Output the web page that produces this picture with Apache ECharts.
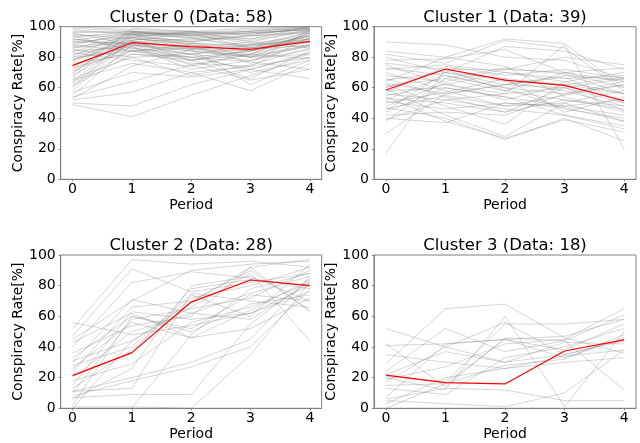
<!DOCTYPE html>
<html>
<head>
<meta charset="utf-8">
<script src="https://cdn.jsdelivr.net/npm/echarts@6/dist/echarts.min.js"></script>
<style>
html,body{margin:0;padding:0;background:#fff;}
#chart{width:640px;height:443px;}
</style>
</head>
<body>
<div id="chart"></div>
<script>
var periods = [0, 1, 2, 3, 4];
var yTicks = [0, 20, 40, 60, 80, 100];
var clusterTitles = ["Cluster 0 (Data: 58)", "Cluster 1 (Data: 39)", "Cluster 2 (Data: 28)", "Cluster 3 (Data: 18)"];
var xAxisName = "Period";
var yAxisName = "Conspiracy Rate[%]";

var cluster0Lines = [
  [49, 41, 55, 68, 80], [50, 48, 62, 72, 82], [52, 57, 70, 58, 76], [54, 64, 75, 65, 72],
  [55, 88, 85, 62, 78], [58, 92, 90, 80, 88], [60, 95, 88, 84, 92], [62, 85, 78, 66, 84],
  [63, 90, 92, 88, 96], [64, 93, 86, 90, 98], [66, 80, 68, 75, 86], [67, 96, 94, 92, 100],
  [68, 89, 82, 78, 88], [70, 94, 90, 95, 99], [71, 87, 75, 82, 90], [72, 91, 96, 86, 94],
  [73, 84, 80, 72, 66], [74, 97, 92, 96, 98], [75, 88, 84, 80, 82], [76, 82, 78, 84, 95],
  [77, 93, 97, 90, 86], [78, 90, 86, 84, 92], [78, 95, 90, 94, 100], [79, 86, 82, 88, 90],
  [80, 84, 88, 76, 98], [80, 91, 78, 85, 88], [81, 96, 95, 89, 94], [82, 89, 86, 82, 79],
  [83, 78, 74, 82, 96], [84, 93, 88, 86, 90], [84, 87, 72, 78, 85], [85, 80, 82, 86, 97],
  [86, 90, 89, 87, 92], [86, 94, 96, 92, 98], [87, 91, 85, 81, 88], [88, 96, 94, 97, 99],
  [88, 84, 76, 74, 93], [89, 95, 93, 86, 91], [90, 93, 91, 94, 97], [90, 89, 84, 80, 87],
  [91, 96, 97, 95, 99], [92, 86, 80, 84, 94], [92, 88, 82, 70, 78], [93, 97, 95, 96, 98],
  [94, 84, 86, 80, 95], [94, 95, 96, 97, 100], [95, 92, 89, 88, 92], [96, 97, 94, 96, 98],
  [96, 88, 78, 82, 96], [97, 96, 95, 97, 99], [98, 95, 93, 91, 97], [99, 97, 96, 98, 100],
  [100, 98, 97, 99, 100], [65, 76, 70, 74, 80], [57, 70, 67, 72, 83], [61, 82, 80, 77, 72],
  [69, 99, 97, 94, 96], [53, 74, 85, 88, 93]
];
var cluster0Mean = [74.5, 89.5, 86.9, 85.2, 90.4];

var cluster1Lines = [
  [90, 88, 80, 78, 66], [84, 80, 92, 89, 60], [82, 76, 91, 86, 58], [80, 70, 87, 84, 72],
  [78, 79, 85, 70, 64], [76, 72, 72, 80, 75], [75, 62, 56, 88, 20], [73, 68, 60, 46, 40],
  [72, 75, 70, 66, 68], [70, 58, 48, 55, 62], [68, 64, 72, 70, 73], [66, 54, 44, 60, 50],
  [65, 70, 66, 62, 56], [64, 80, 74, 54, 44], [63, 56, 62, 68, 65], [62, 48, 36, 64, 56],
  [61, 66, 58, 70, 60], [60, 72, 64, 58, 48], [59, 42, 28, 50, 38], [58, 60, 54, 48, 52],
  [57, 74, 68, 72, 66], [56, 52, 46, 42, 35], [55, 62, 70, 64, 70], [54, 38, 27, 39, 31],
  [53, 50, 44, 52, 46], [52, 68, 60, 56, 62], [51, 46, 50, 48, 42], [50, 57, 66, 44, 54],
  [48, 63, 52, 62, 67], [47, 40, 26, 40, 25], [46, 55, 48, 50, 58], [45, 70, 62, 67, 50],
  [44, 60, 54, 42, 33], [42, 44, 42, 56, 64], [40, 37, 50, 47, 38], [39, 52, 56, 60, 66],
  [38, 66, 73, 69, 56], [30, 56, 62, 60, 45], [17, 72, 58, 52, 48]
];
var cluster1Mean = [58.5, 72.3, 65.0, 61.6, 51.5];

var cluster2Lines = [
  [56, 48, 54, 62, 80], [52, 97, 94, 96, 92], [47, 91, 76, 82, 88], [45, 70, 90, 94, 96],
  [43, 62, 46, 64, 84], [40, 82, 89, 85, 78], [36, 54, 60, 92, 97], [33, 60, 52, 74, 70],
  [31, 44, 66, 88, 44], [30, 71, 62, 58, 82], [28, 40, 74, 60, 94], [26, 56, 46, 52, 72],
  [24, 66, 70, 90, 64], [22, 36, 78, 84, 80], [20, 50, 62, 75, 86], [18, 29, 56, 66, 82],
  [15, 63, 58, 62, 76], [13, 38, 72, 80, 92], [11, 20, 30, 45, 86], [11, 13, 75, 70, 66],
  [10, 58, 65, 72, 90], [8, 18, 27, 40, 78], [7, 9, 9, 55, 84], [6, 26, 80, 86, 70],
  [2, 60, 50, 68, 74], [1, 1, 0, 35, 82], [0, 0, 48, 78, 88], [0, 44, 69, 92, 63]
];
var cluster2Mean = [21.3, 36.3, 69.3, 83.7, 80.0];

var cluster3Lines = [
  [52, 40, 30, 35, 45], [42, 14, 46, 44, 12], [41, 42, 45, 47, 58], [35, 30, 26, 34, 38],
  [29, 65, 68, 46, 36], [24, 52, 37, 44, 61], [21, 17, 55, 55, 58], [20, 12, 60, 1, 50],
  [19, 27, 42, 45, 65], [17, 40, 56, 35, 44], [15, 16, 28, 32, 48], [13, 9, 33, 40, 52],
  [7, 42, 45, 38, 55], [6, 13, 12, 5, 5], [5, 3, 1, 10, 38], [3, 20, 26, 30, 33],
  [0, 16, 45, 33, 46], [22, 37, 30, 43, 42]
];
var cluster3Mean = [21.7, 16.7, 15.9, 37.4, 44.6];

var allLines = [cluster0Lines, cluster1Lines, cluster2Lines, cluster3Lines];
var allMeans = [cluster0Mean, cluster1Mean, cluster2Mean, cluster3Mean];

var FONT = "DejaVu Sans";
var gridBoxes = [
  {left: 60.7, top: 26.7, width: 261, height: 152.6},
  {left: 374, top: 26.7, width: 262, height: 152.6},
  {left: 60.7, top: 255, width: 261, height: 153.3},
  {left: 374, top: 255, width: 262, height: 153.3}
];
var spineColor = "#808080";

var grids = [], xAxes = [], yAxes = [], series = [], graphics = [];
gridBoxes.forEach(function (g, i) {
  grids.push({left: g.left, top: g.top, width: g.width, height: g.height,
    show: true, borderColor: spineColor, borderWidth: 1, backgroundColor: "transparent", containLabel: false});
  xAxes.push({
    type: "value", gridIndex: i, min: -0.2, max: 4.2,
    name: xAxisName, nameLocation: "middle", nameGap: 19,
    nameTextStyle: {fontFamily: FONT, fontSize: 14, color: "#000"},
    axisLine: {show: true, onZero: false, lineStyle: {color: spineColor, width: 1}},
    axisTick: {show: true, length: 2, inside: false, customValues: periods, lineStyle: {color: spineColor}},
    axisLabel: {show: true, customValues: periods, margin: 3, fontFamily: FONT, fontSize: 14, color: "#000"},
    splitLine: {show: false}
  });
  yAxes.push({
    type: "value", gridIndex: i, min: 0, max: 100, interval: 20,
    name: yAxisName, nameLocation: "middle", nameGap: 31,
    nameTextStyle: {fontFamily: FONT, fontSize: 14, color: "#000"},
    axisLine: {show: true, onZero: false, lineStyle: {color: spineColor, width: 1}},
    axisTick: {show: true, length: 2, lineStyle: {color: spineColor}},
    axisLabel: {show: true, margin: 5, fontFamily: FONT, fontSize: 14, color: "#000",
      customValues: yTicks},
    splitLine: {show: false}
  });
  allLines[i].forEach(function (line) {
    series.push({
      type: "line", xAxisIndex: i, yAxisIndex: i, silent: true, showSymbol: false, symbol: "none",
      data: periods.map(function (p, k) { return [p, line[k]]; }),
      lineStyle: {color: "rgba(128,128,128,0.32)", width: 1},
      z: 2
    });
  });
  series.push({
    type: "line", xAxisIndex: i, yAxisIndex: i, silent: true, showSymbol: false, symbol: "none",
    data: periods.map(function (p, k) { return [p, allMeans[i][k]]; }),
    lineStyle: {color: "#ff0000", width: 1.2},
    z: 5
  });
  graphics.push({
    type: "text", x: g.left + g.width / 2, y: g.top - 9,
    style: {text: clusterTitles[i], fontFamily: FONT, fontSize: 16.5, fill: "#000",
      textAlign: "center", textVerticalAlign: "middle"}
  });
});

var chart = echarts.init(document.getElementById("chart"), null, {renderer: "canvas"});
chart.setOption({
  animation: false,
  backgroundColor: "#fff",
  grid: grids, xAxis: xAxes, yAxis: yAxes, series: series, graphic: graphics
});
</script>
</body>
</html>
